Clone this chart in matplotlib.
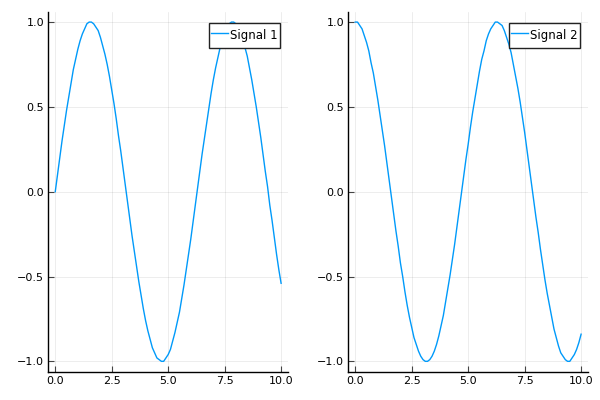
import numpy as np
import matplotlib
matplotlib.use("Agg")
import matplotlib.pyplot as plt

x = [i * 0.1 for i in range(101)]
signal1 = [0.00, 0.10, 0.20, 0.30, 0.39, 0.48, 0.56, 0.64, 0.72, 0.78,
           0.84, 0.89, 0.93, 0.96, 0.99, 1.00, 1.00, 0.99, 0.97, 0.95,
           0.91, 0.86, 0.81, 0.75, 0.68, 0.60, 0.52, 0.43, 0.33, 0.24,
           0.14, 0.04, -0.06, -0.16, -0.26, -0.35, -0.44, -0.53, -0.61, -0.69,
           -0.76, -0.82, -0.87, -0.92, -0.95, -0.98, -0.99, -1.00, -1.00, -0.98,
           -0.96, -0.93, -0.88, -0.83, -0.77, -0.71, -0.63, -0.55, -0.46, -0.37,
           -0.28, -0.18, -0.08, 0.02, 0.12, 0.22, 0.31, 0.40, 0.49, 0.58,
           0.66, 0.73, 0.79, 0.85, 0.90, 0.94, 0.97, 0.99, 1.00, 1.00,
           0.99, 0.97, 0.94, 0.90, 0.85, 0.80, 0.73, 0.66, 0.58, 0.50,
           0.41, 0.32, 0.22, 0.12, 0.03, -0.08, -0.17, -0.27, -0.37, -0.46,
           -0.54]
signal2 = [1.00, 1.00, 0.98, 0.96, 0.92, 0.88, 0.83, 0.76, 0.70, 0.62,
           0.54, 0.45, 0.36, 0.27, 0.17, 0.07, -0.03, -0.13, -0.23, -0.32,
           -0.42, -0.50, -0.59, -0.67, -0.74, -0.80, -0.86, -0.90, -0.94, -0.97,
           -0.99, -1.00, -1.00, -0.99, -0.97, -0.94, -0.90, -0.85, -0.79, -0.73,
           -0.65, -0.57, -0.49, -0.40, -0.31, -0.21, -0.11, -0.01, 0.09, 0.19,
           0.28, 0.38, 0.47, 0.55, 0.63, 0.71, 0.78, 0.83, 0.89, 0.93,
           0.96, 0.98, 1.00, 1.00, 0.99, 0.98, 0.95, 0.91, 0.87, 0.82,
           0.75, 0.68, 0.61, 0.53, 0.44, 0.35, 0.25, 0.15, 0.05, -0.05,
           -0.15, -0.24, -0.34, -0.43, -0.52, -0.60, -0.67, -0.74, -0.81, -0.86,
           -0.91, -0.95, -0.97, -0.99, -1.00, -1.00, -0.98, -0.96, -0.93, -0.89,
           -0.84]
labels = ["Signal 1", "Signal 2"]
xticks = [0.0, 2.5, 5.0, 7.5, 10.0]
yticks = [-1.0, -0.5, 0.0, 0.5, 1.0]

fig = plt.figure(figsize=(6, 4), dpi=100)
color = "#009AFA"
positions = [[0.0808, 0.07125, 0.399, 0.899], [0.5808, 0.07125, 0.399, 0.899]]

for pos, y, lab in zip(positions, [signal1, signal2], labels):
    ax = fig.add_axes(pos)
    ax.plot(x, y, color=color, lw=1, label=lab)
    ax.set_xlim(-0.3, 10.3)
    ax.set_ylim(-1.06, 1.06)
    ax.set_xticks(xticks)
    ax.set_yticks(yticks)
    ax.set_xticklabels([f"{t:.1f}" for t in xticks])
    ax.set_yticklabels([f"{t:.1f}".replace("-", "\u2212") for t in yticks])
    ax.grid(True, color="black", alpha=0.1, lw=0.5)
    ax.spines["top"].set_visible(False)
    ax.spines["right"].set_visible(False)
    for s in ["left", "bottom"]:
        ax.spines[s].set_linewidth(1)
    ax.tick_params(direction="in", length=4, width=0.8, labelsize=8,
                   colors="#444444", labelcolor="black", pad=3)
    leg = ax.legend(loc="upper right", bbox_to_anchor=(0.966, 0.968),
                    fontsize=8.5, frameon=True, fancybox=False, framealpha=1,
                    edgecolor="#222222", handlelength=1.45, handletextpad=0.1,
                    handleheight=2.1, borderpad=0.22, borderaxespad=0)
    leg.get_frame().set_linewidth(1.0)

fig.savefig("out.png", dpi=100)
